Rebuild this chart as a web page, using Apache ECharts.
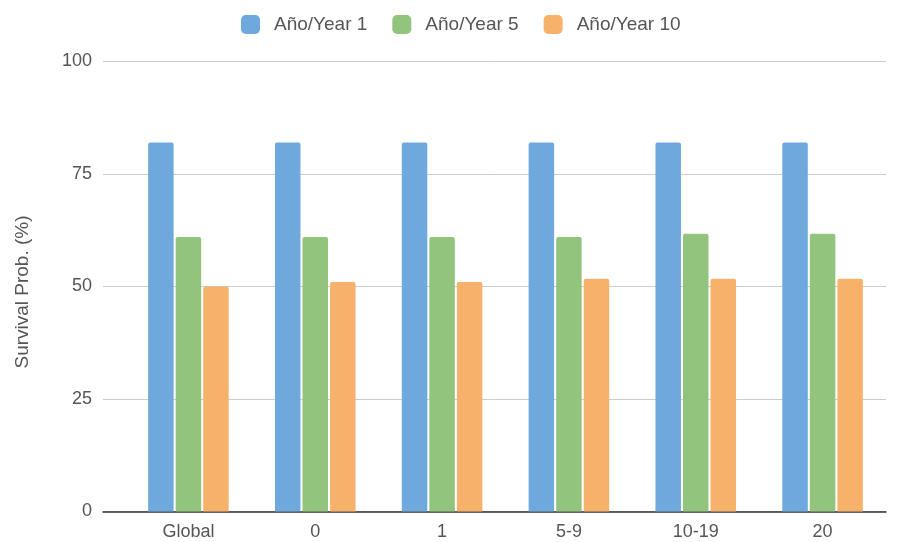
<!DOCTYPE html>
<html>
<head>
<meta charset="utf-8">
<title>Survival Prob.</title>
<script src="https://cdn.jsdelivr.net/npm/echarts@6/dist/echarts.min.js"></script>
<style>
  html, body { margin: 0; padding: 0; background: #fff; }
  #chart { width: 899px; height: 542px; }
</style>
</head>
<body>
<div id="chart"></div>
<script>
// Categories and survival probabilities (%)
const categories = ['Global', '0', '1', '5-9', '10-19', '20'];
const year1 = [82, 82, 82, 82, 82, 82];
const year5 = [61, 61, 61, 61, 61.7, 61.7];
const year10 = [50, 51, 51, 51.7, 51.7, 51.7];
const seriesNames = ['Año/Year 1', 'Año/Year 5', 'Año/Year 10'];
const colors = ['#6fa8dc', '#93c47d', '#f6b26b'];

const FONT = '"Liberation Sans", Arial, sans-serif';
const TEXT = '#555';

const chart = echarts.init(document.getElementById('chart'), null, { renderer: 'canvas' });

function barSeries(name, data, color) {
  return {
    name: name,
    type: 'bar',
    xAxisIndex: 1,
    yAxisIndex: 1,
    data: data,
    barWidth: 25.5,
    barGap: '8%',
    itemStyle: { color: color, borderRadius: [2, 2, 0, 0] },
    emphasis: { disabled: true }
  };
}

chart.setOption({
  animation: false,
  textStyle: { fontFamily: FONT },
  color: colors,
  legend: {
    top: 10,
    left: 236,
    itemWidth: 19,
    itemHeight: 19,
    itemGap: 25,
    icon: 'roundRect',
    data: seriesNames,
    textStyle: { fontSize: 19, color: TEXT, fontFamily: FONT, padding: [0, 0, 0, 9] }
  },
  grid: [
    // full-width frame carrying the value scale and gridlines
    { left: 103, right: 13, top: 61.5, bottom: 30.5 },
    // category band area for the bars
    { left: 125, right: 13, top: 61.5, bottom: 30.5 }
  ],
  xAxis: [
    {
      gridIndex: 0,
      type: 'value',
      min: 0,
      max: 1,
      axisLine: { show: true, onZero: false, lineStyle: { color: '#333', width: 1.5 } },
      axisTick: { show: false },
      axisLabel: { show: false },
      splitLine: { show: false }
    },
    {
      gridIndex: 1,
      type: 'category',
      data: categories,
      axisLine: { show: false },
      axisTick: { show: false },
      axisLabel: { color: TEXT, fontSize: 18, fontFamily: FONT, margin: 12 }
    }
  ],
  yAxis: [
    {
      gridIndex: 0,
      type: 'value',
      min: 0,
      max: 100,
      interval: 25,
      name: 'Survival Prob. (%)',
      nameLocation: 'middle',
      nameGap: 71,
      nameTextStyle: { color: TEXT, fontSize: 19, fontFamily: FONT, padding: [0, 11, 0, 0] },
      axisLine: { show: false },
      axisTick: { show: false },
      axisLabel: { color: TEXT, fontSize: 18, fontFamily: FONT, margin: 11 },
      splitLine: { lineStyle: { color: '#cccccc', width: 1 } }
    },
    {
      gridIndex: 1,
      type: 'value',
      min: 0,
      max: 100,
      interval: 25,
      show: false,
      splitLine: { show: false }
    }
  ],
  series: [
    barSeries(seriesNames[0], year1, colors[0]),
    barSeries(seriesNames[1], year5, colors[1]),
    barSeries(seriesNames[2], year10, colors[2])
  ]
});
</script>
</body>
</html>
